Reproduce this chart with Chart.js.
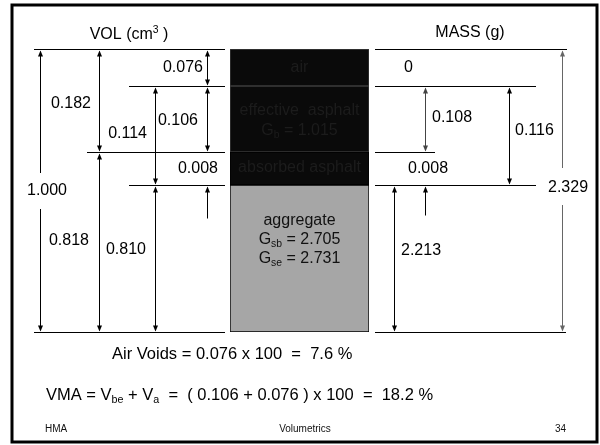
<!DOCTYPE html>
<html>
<head>
<meta charset="utf-8">
<script src="https://cdn.jsdelivr.net/npm/chart.js@4.4.1/dist/chart.umd.min.js"></script>
<style>
  html, body { margin: 0; padding: 0; background: #fff; }
  #wrap { width: 600px; height: 445px; }
</style>
</head>
<body>
<div id="wrap"><canvas id="phaseChart" width="600" height="445"></canvas></div>
<script>
// phase diagram, top to bottom
const phases = ["air", "effective  asphalt", "absorbed asphalt", "aggregate"];
const volumes = [0.076, 0.106, 0.008, 0.810]; // cm3
const masses = [0, 0.108, 0.008, 2.213]; // g
const Gb = 1.015;
const Gsb = 2.705;
const Gse = 2.731;
const footer = ["HMA", "Volumetrics", "34"];

const FONT = "'Liberation Sans', Arial, sans-serif";
const fills = ["#0a0a0a", "#0a0a0a", "#0a0a0a", "#a6a6a6"];
const edgeColors = ["#3c3c3c", "#3c3c3c", "#000", "#000"];
// drawn height of each band, bottom to top (not to scale, like the slide)
const bandWeights = [147, 33, 66, 37];

const sum = (arr) => arr.reduce((a, b) => a + b, 0);
const totalVol = sum(volumes);

// cumulative values from the bottom, same order Chart.js stacks them
const knots = [0];
volumes.slice().reverse().forEach((v) => knots.push(knots[knots.length - 1] + v));

// linear scale that draws each phase band at its schematic height
class SchematicScale extends Chart.LinearScale {
  getPixelForValue(value) {
    if (value === null || value === undefined) return NaN;
    const total = sum(bandWeights);
    let acc = 0;
    for (let i = 0; i < bandWeights.length; i++) {
      const lo = knots[i], hi = knots[i + 1];
      if (value <= hi + 1e-9 || i === bandWeights.length - 1) {
        let t = hi > lo ? (value - lo) / (hi - lo) : 0;
        t = Math.min(Math.max(t, 0), 1);
        return this.getPixelForDecimal((acc + t * bandWeights[i]) / total);
      }
      acc += bandWeights[i];
    }
  }
}
SchematicScale.id = "schematic";
SchematicScale.defaults = Chart.LinearScale.defaults;
Chart.register(SchematicScale);

const fmt = (v) => (v === 0 ? "0" : v.toFixed(3));

// dimension lines: edges are phase boundaries 0 (top) .. 4 (bottom)
const volDims = [
  { from: 0, to: 4, x: 40, lx: 47, align: "center", dy: 0, gap: [-18, 18] },
  { from: 0, to: 2, x: 99, lx: 91, align: "right", dy: 3 },
  { from: 2, to: 4, x: 99, lx: 89, align: "right", dy: -2 },
  { from: 1, to: 3, x: 155, lx: 147, align: "right", dy: -2 },
  { from: 3, to: 4, x: 155, lx: 146, align: "right", dy: -9 },
  { from: 0, to: 1, x: 207, lx: 203, align: "right", dy: 0 },
  { from: 1, to: 2, x: 207, lx: 198, align: "right", dy: 1 },
  { from: 2, to: 3, x: null, lx: 218, align: "right", dy: 0, up: { x: 207, len: 33 } },
];
const massDims = [
  { from: 0, to: 1, x: null, lx: 404, align: "left", dy: 0 },
  { from: 1, to: 2, x: 425, lx: 432, align: "left", dy: -2, color: "#444" },
  { from: 1, to: 3, x: 509, lx: 515, align: "left", dy: -5 },
  { from: 2, to: 3, x: null, lx: 408, align: "left", dy: 0, up: { x: 425, len: 30 } },
  { from: 3, to: 4, x: 394, lx: 401, align: "left", dy: -8 },
  { from: 0, to: 4, x: 562, lx: 548, align: "left", dy: -3, gap: [-20, 17], color: "#666" },
];
const volExt = [[34, 225], [129, 225], [87, 225], [129, 225], [34, 225]];
const massExt = [[375, 567], [375, 536], [375, 435], [375, 536], [375, 566]];

function richText(ctx, parts, x, y, size, align, color) {
  const widthOf = (p) => {
    ctx.font = (p[1] ? size * 0.65 : size) + "px " + FONT;
    return ctx.measureText(p[0]).width;
  };
  const w = sum(parts.map(widthOf));
  let cx = align === "center" ? x - w / 2 : align === "right" ? x - w : x;
  ctx.fillStyle = color || "#000";
  ctx.textAlign = "left";
  ctx.textBaseline = "middle";
  parts.forEach((p) => {
    ctx.font = (p[1] ? size * 0.65 : size) + "px " + FONT;
    const off = p[1] === "sub" ? size * 0.28 : p[1] === "sup" ? -size * 0.3 : 0;
    ctx.fillText(p[0], cx, y + off);
    cx += ctx.measureText(p[0]).width;
  });
}

function arrowHead(ctx, x, y, dir) {
  ctx.beginPath();
  ctx.moveTo(x, y);
  ctx.lineTo(x - 2.5, y - dir * 6);
  ctx.lineTo(x + 2.5, y - dir * 6);
  ctx.closePath();
  ctx.fill();
}

function vline(ctx, x, y1, y2) {
  ctx.beginPath();
  ctx.moveTo(x + 0.5, y1);
  ctx.lineTo(x + 0.5, y2);
  ctx.stroke();
}

function drawDims(ctx, dims, values, edges) {
  dims.forEach((d) => {
    const y1 = edges[d.from], y2 = edges[d.to];
    const mid = (y1 + y2) / 2 + d.dy;
    const color = d.color || "#000";
    ctx.strokeStyle = color;
    ctx.fillStyle = color;
    ctx.lineWidth = 1;
    if (d.x !== null) {
      if (d.gap) {
        vline(ctx, d.x, y1 + 2, mid + d.gap[0]);
        vline(ctx, d.x, mid + d.gap[1], y2 - 2);
      } else {
        vline(ctx, d.x, y1 + 2, y2 - 2);
      }
      arrowHead(ctx, d.x + 0.5, y1 + 1, -1);
      arrowHead(ctx, d.x + 0.5, y2 - 1, 1);
    }
    if (d.up) {
      vline(ctx, d.up.x, y2 + 2, y2 + d.up.len);
      arrowHead(ctx, d.up.x + 0.5, y2 + 1, -1);
    }
    const v = sum(values.slice(d.from, d.to));
    richText(ctx, [[fmt(v)]], d.lx, mid, 16, d.align, "#000");
  });
}

const diagramPlugin = {
  id: "diagram",
  afterDraw(chart) {
    const ctx = chart.ctx;
    const y = chart.scales.y;
    const edges = knots.slice().reverse().map((v) => Math.round(y.getPixelForValue(v)) + 0.5);
    const cx = (chart.chartArea.left + chart.chartArea.right) / 2;
    ctx.save();

    // slide frame
    ctx.strokeStyle = "#000";
    ctx.lineWidth = 3;
    ctx.strokeRect(12, 5, 585, 437);

    // headers
    richText(ctx, [["VOL (cm"], ["3", "sup"], [" )"]], 129, 35, 16, "center");
    richText(ctx, [["MASS (g)"]], 470, 33, 16, "center");

    // extension lines
    ctx.lineWidth = 1;
    ctx.strokeStyle = "#000";
    edges.forEach((ey, i) => {
      [volExt[i], massExt[i]].forEach((seg) => {
        ctx.beginPath();
        ctx.moveTo(seg[0], ey);
        ctx.lineTo(seg[1], ey);
        ctx.stroke();
      });
    });

    drawDims(ctx, volDims, volumes, edges);
    drawDims(ctx, massDims, masses, edges);

    // labels inside the phase column
    const band = (i) => (edges[i] + edges[i + 1]) / 2;
    const dark = "#1c1c1c";
    richText(ctx, [[phases[0]]], cx, band(0), 16, "center", dark);
    richText(ctx, [[phases[1]]], cx, band(1) - 9, 16, "center", dark);
    richText(ctx, [["G"], ["b", "sub"], [" = " + Gb.toFixed(3)]], cx, band(1) + 11, 16, "center", dark);
    richText(ctx, [[phases[2]]], cx, band(2) - 1, 16, "center", dark);
    richText(ctx, [[phases[3]]], cx, band(3) - 38, 16, "center", "#111");
    richText(ctx, [["G"], ["sb", "sub"], [" = " + Gsb.toFixed(3)]], cx, band(3) - 19, 16, "center", "#111");
    richText(ctx, [["G"], ["se", "sub"], [" = " + Gse.toFixed(3)]], cx, band(3), 16, "center", "#111");

    // equations
    const va = volumes[0], vbe = volumes[1];
    richText(ctx, [["Air Voids = " + va.toFixed(3) + " x 100  =  " + (va * 100).toFixed(1) + " %"]], 112, 354, 16.5, "left");
    richText(ctx, [
      ["VMA = V"], ["be", "sub"], [" + V"], ["a", "sub"],
      ["  =  ( " + vbe.toFixed(3) + " + " + va.toFixed(3) + " ) x 100  =  " + ((vbe + va) * 100).toFixed(1) + " %"],
    ], 46, 395, 16.5, "left");

    // footer
    richText(ctx, [[footer[0]]], 45, 429, 10, "left", "#111");
    richText(ctx, [[footer[1]]], 305, 429, 10, "center", "#111");
    richText(ctx, [[footer[2]]], 566, 429, 10, "right", "#111");
    ctx.restore();
  },
};

new Chart(document.getElementById("phaseChart"), {
  type: "bar",
  data: {
    labels: [""],
    datasets: phases
      .map((p, i) => ({
        label: p,
        data: [volumes[i]],
        backgroundColor: fills[i],
        borderColor: edgeColors[i],
        borderWidth: 1,
        borderSkipped: false,
      }))
      .reverse(),
  },
  options: {
    responsive: false,
    animation: false,
    devicePixelRatio: 1,
    layout: { padding: { top: 49, bottom: 113, left: 230, right: 231 } },
    datasets: { bar: { barPercentage: 1, categoryPercentage: 1 } },
    plugins: { legend: { display: false }, tooltip: { enabled: false } },
    scales: {
      x: { display: false, stacked: true },
      y: { type: "schematic", display: false, stacked: true, min: 0, max: totalVol },
    },
  },
  plugins: [diagramPlugin],
});
</script>
</body>
</html>
